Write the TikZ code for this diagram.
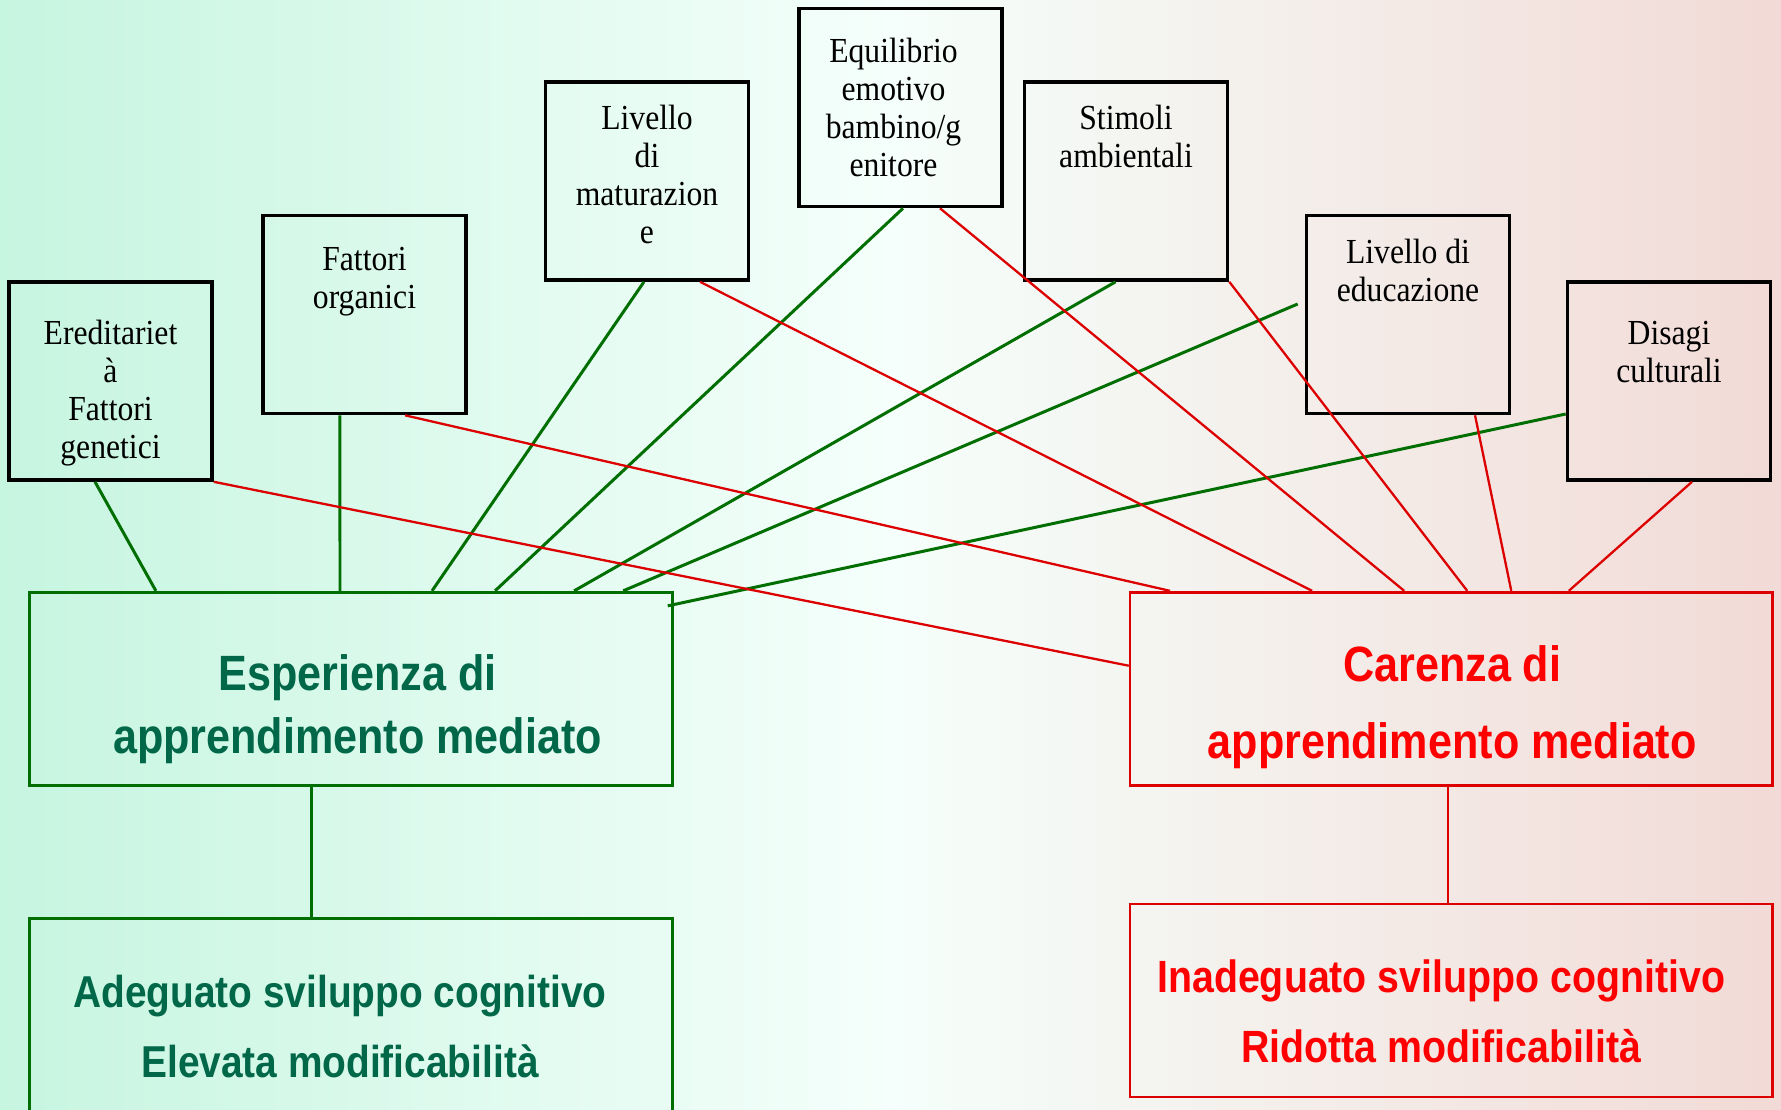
\documentclass[tikz,border=0pt]{standalone}
\usepackage{fontspec}
\setmainfont{Liberation Serif}[FakeStretch=0.9]
\newfontfamily\grassetto{Liberation Sans}[FakeStretch=0.87]
\definecolor{verdetesto}{RGB}{0,104,72}
\definecolor{verdelinea}{RGB}{0,110,0}
\definecolor{rossolinea}{RGB}{220,0,0}
\definecolor{menta}{RGB}{198,245,224}
\definecolor{rosa}{RGB}{242,218,214}
\definecolor{bianco}{RGB}{245,255,251}
\begin{document}
\begin{tikzpicture}[x=0.01cm,y=-0.01cm,
  fattore/.style={draw=black,line width=1pt,minimum width=2.03cm,minimum height=1.98cm,inner sep=0pt},
  voce/.style={anchor=north,align=center,inner sep=0pt,font=\fontsize{10}{10.8}\selectfont},
  bloccoverde/.style={draw=verdelinea,line width=0.9pt,minimum width=6.42cm,minimum height=1.93cm,inner sep=0pt},
  bloccorosso/.style={draw=rossolinea,line width=0.75pt,minimum width=6.42cm,minimum height=1.93cm,inner sep=0pt},
  titoloverde/.style={text=verdetesto,align=center,inner sep=0pt},
  titolorosso/.style={text=red,align=center,inner sep=0pt},
  filoverde/.style={verdelinea,line width=0.85pt},
  filorosso/.style={rossolinea,line width=0.65pt}]
\shade[left color=menta,right color=rosa,middle color=bianco] (0,0) rectangle (1781,1110);
\useasboundingbox (0,0) rectangle (1781,1110);

% fattori
\node (ered) at (110.5,381) [fattore]{};
\node (organ) at (364.5,314.5) [fattore]{};
\node (matur) at (647,181) [fattore]{};
\node (equil) at (900.5,107.5) [fattore]{};
\node (stim) at (1126,181) [fattore]{};
\node (educ) at (1408,314.5) [fattore]{};
\node (disag) at (1669,381) [fattore]{};

\node (ered-t) at ([yshift=-0.395cm]ered.north) [voce]{Ereditariet\\à\\Fattori\\genetici};
\node (organ-t) at ([yshift=-0.325cm]organ.north) [voce]{Fattori\\organici};
\node (matur-t) at ([yshift=-0.245cm]matur.north) [voce]{Livello\\di\\maturazion\\e};
\node (equil-t) at ([xshift=-0.07cm,yshift=-0.31cm]equil.north) [voce]{Equilibrio\\emotivo\\bambino/g\\enitore};
\node (stim-t) at ([yshift=-0.245cm]stim.north) [voce]{Stimoli\\ambientali};
\node (educ-t) at ([yshift=-0.245cm]educ.north) [voce]{Livello di\\educazione};
\node (disag-t) at ([yshift=-0.4cm]disag.north) [voce]{Disagi\\culturali};

% esiti
\node (esp) at (351,689) [bloccoverde]{};
\node (adeg) at (351,1015) [bloccoverde]{};
\node (car) at (1451.25,688.75) [bloccorosso]{};
\node (inad) at (1451.25,1000.5) [bloccorosso]{};

\node (esp-t) at ([xshift=0.065cm,yshift=-0.199cm]esp.center) [titoloverde,font=\grassetto\bfseries\fontsize{14.1}{17.9}\selectfont]{Esperienza di\\apprendimento mediato};
\node (adeg-t) at ([xshift=-0.11cm,yshift=-0.113cm]adeg.center) [titoloverde,font=\grassetto\bfseries\fontsize{12.7}{19.9}\selectfont]{Adeguato sviluppo cognitivo\\Elevata modificabilità};
\node (car-t) at ([xshift=0.01cm,yshift=-0.189cm]car.center) [titolorosso,font=\grassetto\bfseries\fontsize{14.1}{21.9}\selectfont]{Carenza di\\apprendimento mediato};
\node (inad-t) at ([xshift=-0.1cm,yshift=-0.11cm]inad.center) [titolorosso,font=\grassetto\bfseries\fontsize{12.85}{19.9}\selectfont]{Inadeguato sviluppo cognitivo\\Ridotta modificabilità};

\draw[filoverde] ([xshift=-0.155cm]ered.south) -- ([xshift=-1.95cm]esp.north);
\draw[filoverde] ([xshift=-0.245cm]organ.south) -- ([xshift=-0.11cm]esp.north);
\draw[filoverde] ([xshift=-0.03cm]matur.south) -- ([xshift=0.81cm]esp.north);
\draw[filoverde] ([xshift=0.025cm]equil.south) -- ([xshift=1.44cm]esp.north);
\draw[filoverde] ([xshift=-0.104cm]stim.south) -- ([xshift=2.23cm]esp.north);
\draw[filoverde] ([xshift=-0.07cm,yshift=0.105cm]educ.west) -- ([xshift=2.72cm]esp.north);
\draw[filoverde] ([yshift=-0.33cm]disag.west) -- ([xshift=-0.06cm,yshift=-0.15cm]esp.north east);

\draw[filorosso] (ered.south east) -- ([yshift=0.23cm]car.west);
\draw[filorosso] ([xshift=0.405cm]organ.south) -- ([xshift=-2.81cm]car.north);
\draw[filorosso] ([xshift=0.53cm]matur.south) -- ([xshift=-1.39cm]car.north);
\draw[filorosso] ([xshift=0.395cm]equil.south) -- ([xshift=-0.47cm]car.north);
\draw[filorosso] (stim.south east) -- ([xshift=0.16cm]car.north);
\draw[filorosso] ([xshift=0.67cm]educ.south) -- ([xshift=0.6cm]car.north);
\draw[filorosso] ([xshift=0.23cm]disag.south) -- ([xshift=1.175cm]car.north);

\draw[filoverde] ([xshift=-0.39cm]esp.south) -- ([xshift=-0.39cm]adeg.north);
\draw[filorosso] ([xshift=-0.03cm]car.south) -- ([xshift=-0.03cm]inad.north);
\end{tikzpicture}
\end{document}
